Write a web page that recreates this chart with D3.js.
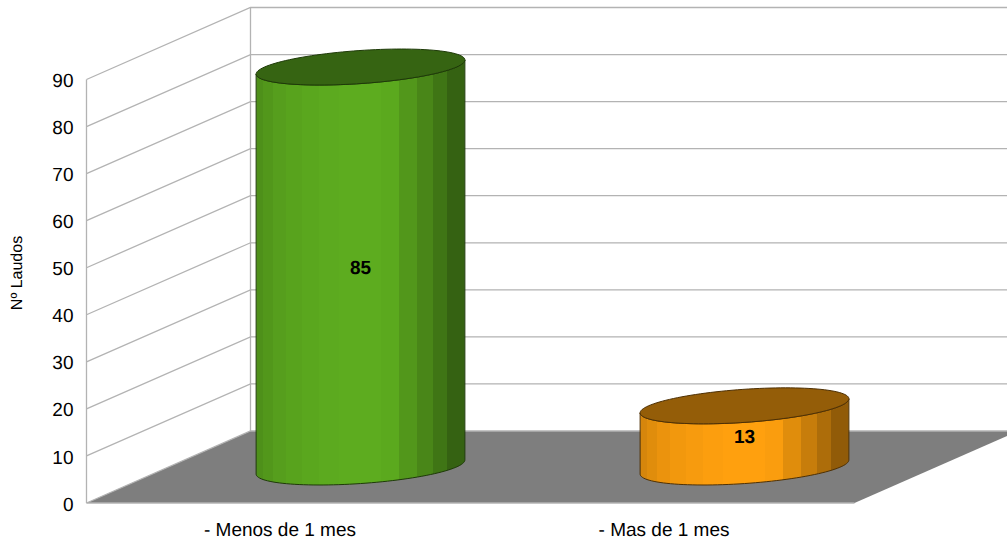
<!doctype html>
<html lang="en">
<head>
    <meta charset="UTF-8">
    <title>laudos</title>
    <style>
        body { margin: 0; background: #fff; }
        svg { display: block; }
        text { font-family: "Liberation Sans", Arial, sans-serif; fill: #000; text-rendering: geometricPrecision; }
        .grid { fill: none; stroke: #b3b3b3; stroke-width: 1.3px; }
        .cat { font-size: 19px; text-anchor: middle; }
        .val { font-size: 19px; font-weight: bold; text-anchor: middle; }
    </style>
</head>
<body>

<svg width="1007" height="542"></svg>

<script src="https://d3js.org/d3.v7.min.js"></script>
<script>
  const categories = ['- Menos de 1 mes', '- Mas de 1 mes']
  const values = [85, 13]
  const yTicks = [0, 10, 20, 30, 40, 50, 60, 70, 80, 90]
  const colors = ['#5dac1f', '#ffa00e']
  const edgeColors = ['#1e3a08', '#4e3004']

  // fake 3d: how far the floor runs back
  const depthX = 164
  const depthY = -72

  const svg = d3.select('svg')
  const x = d3.scaleBand().domain(categories).range([86.5, 854.5]).paddingInner(0.5).paddingOuter(0.25)
  const y = d3.scaleLinear().domain([0, 90]).range([503, 79.5])

  // shading strips round the cylinder: [right edge as fraction of the width, brightness]
  const strips = [
    [0.034, 0.84], [0.081, 0.88], [0.144, 0.92], [0.22, 0.95], [0.301, 0.97], [0.397, 0.99],
    [0.598, 1.0], [0.684, 0.98], [0.770, 0.88], [0.847, 0.78], [0.914, 0.68], [1.0, 0.57]
  ]

  const shade = (c, k) => {
    const r = d3.rgb(c)
    return d3.rgb(r.r * k, r.g * k, r.b * k).formatHex()
  }

  const defs = svg.append('defs')
  colors.forEach((c, i) => {
    const g = defs.append('linearGradient').attr('id', 'side' + i)
    let from = 0
    strips.forEach(s => {
      g.append('stop').attr('offset', from).attr('stop-color', shade(c, s[1]))
      g.append('stop').attr('offset', s[0]).attr('stop-color', shade(c, s[1]))
      from = s[0]
    })
  })

  // floor
  const x0 = x.range()[0]
  const x1 = x.range()[1]
  svg.append('path')
    .attr('fill', '#7e7e7e')
    .attr('d', d3.line()([[x0, y(0)], [x1, y(0)], [x1 + depthX, y(0) + depthY], [x0 + depthX, y(0) + depthY]]))

  // walls
  const grid = svg.append('g').attr('class', 'walls')
  yTicks.forEach(t => {
    grid.append('path').attr('class', 'grid')
      .attr('d', d3.line()([[x0, y(t)], [x0 + depthX, y(t) + depthY], [x1 + depthX, y(t) + depthY]]))
  })
  grid.append('line').attr('class', 'grid')
    .attr('x1', x0).attr('x2', x0).attr('y1', y(0)).attr('y2', y(90))
  grid.append('line').attr('class', 'grid')
    .attr('x1', x0 + depthX).attr('x2', x0 + depthX).attr('y1', y(0) + depthY).attr('y2', y(90) + depthY)
  grid.append('line').attr('class', 'grid')
    .attr('x1', x0).attr('x2', x1).attr('y1', y(0)).attr('y2', y(0))

  // y axis, labels only
  const yAxis = d3.axisLeft(y).tickValues(yTicks).tickSize(0).tickPadding(13)
  svg.append('g')
    .attr('transform', `translate(${x0},1)`)
    .call(yAxis)
    .call(g => g.select('.domain').remove())
    .call(g => g.selectAll('text').style('font-family', '"Liberation Sans"').style('font-size', '19px').attr('fill', '#000'))

  svg.append('text')
    .attr('transform', 'translate(22,273) rotate(-90)')
    .attr('text-anchor', 'middle')
    .style('font-size', '16px')
    .text('Nº Laudos')

  svg.selectAll('text.cat')
    .data(categories)
    .enter()
    .append('text')
    .attr('class', 'cat')
    .attr('x', d => x(d) + x.bandwidth() / 2 + 1.5)
    .attr('y', 536)
    .text(d => d)

  // cylinders
  const radX = x.bandwidth() / 2
  const depthRadX = depthX / 4
  const depthRadY = -depthY / 4
  const t0 = Math.atan2(depthRadX, radX)
  const halfW = Math.hypot(radX, depthRadX)

  const pt = (cx, cy, t) => [cx + radX * Math.cos(t) + depthRadX * Math.sin(t), cy - depthRadY * Math.sin(t)]
  const line = d3.line()

  categories.forEach((c, i) => {
    const cx = x(c) + x.bandwidth() / 2 + depthX / 2
    const yb = y(0) + depthY / 2
    const yt = y(values[i]) + depthY / 2
    const ang = d3.range(0, 61).map(k => t0 - Math.PI * k / 60)
    const bottom = ang.map(t => pt(cx, yb, t))
    const top = ang.map(t => pt(cx, yt, t)).reverse()

    const gid = 'sideClip' + i
    svg.append('clipPath').attr('id', gid).append('path').attr('d', line(bottom.concat(top)) + 'Z')

    svg.append('rect')
      .attr('x', cx - halfW).attr('width', halfW * 2)
      .attr('y', yt - 30).attr('height', yb - yt + 60)
      .attr('fill', `url(#side${i})`)
      .attr('clip-path', `url(#${gid})`)

    svg.append('path')
      .attr('d', line(bottom.concat(top)) + 'Z')
      .attr('fill', 'none').attr('stroke', edgeColors[i]).attr('stroke-width', 1)

    const circle = d3.range(0, 121).map(k => pt(cx, yt, Math.PI * k / 60))
    svg.append('path')
      .attr('d', line(circle) + 'Z')
      .attr('fill', shade(colors[i], 0.58))
      .attr('stroke', edgeColors[i]).attr('stroke-width', 1)

    svg.append('text')
      .attr('class', 'val')
      .attr('x', cx)
      .attr('y', y(values[i] / 2) + depthY / 2 + 6.5)
      .text(values[i])
  })
</script>
</body>
</html>
